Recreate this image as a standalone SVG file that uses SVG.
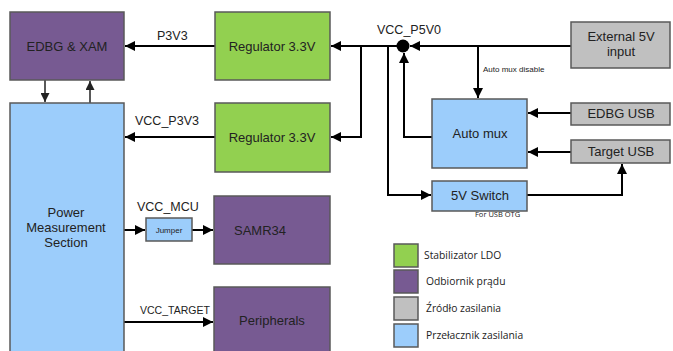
<svg xmlns="http://www.w3.org/2000/svg" width="673" height="351" viewBox="0 0 673 351">
  <style>
    .box { stroke: #595959; stroke-width: 1.5; }
    .ldo { fill: #92d050; }
    .load { fill: #775a92; }
    .src { fill: #c0c0c0; }
    .sw { fill: #9ccdfb; }
    .wire { fill: none; stroke: #000; stroke-width: 2; }
    .thin { fill: none; stroke: #222; stroke-width: 1.5; }
    text { font-family: "Liberation Sans", Arial, sans-serif; fill: #222; }
    .lbl { font-size: 13px; text-anchor: middle; }
    .sig { font-size: 12.5px; }
    .sig-sm { font-size: 10.5px; }
    .tiny { font-size: 8px; }
    .note { font-family: "Open Sans", "Liberation Sans", sans-serif; font-size: 7.5px; }
    .leg { font-family: "Open Sans", "Liberation Sans", sans-serif; font-size: 10.3px; }
  </style>
  <defs>
    <marker id="arr" viewBox="0 0 10 10" refX="10" refY="5" markerWidth="5" markerHeight="5" orient="auto" markerUnits="strokeWidth">
      <path d="M0,0 L10,5 L0,10 z" fill="#000"/>
    </marker>
    <marker id="arrs" viewBox="0 0 10 10" refX="10" refY="5" markerWidth="6" markerHeight="6" orient="auto" markerUnits="strokeWidth">
      <path d="M0,0 L10,5 L0,10 z" fill="#222"/>
    </marker>
  </defs>
  <rect width="673" height="351" fill="#fff"/>

  <!-- connectors -->
  <g id="connectors">
    <path class="wire" d="M215,46 H125" marker-end="url(#arr)"/>
    <path class="wire" d="M215,137 H125" marker-end="url(#arr)"/>
    <path class="thin" d="M45,80 V102" marker-end="url(#arrs)"/>
    <path class="thin" d="M90,103 V81" marker-end="url(#arrs)"/>
    <!-- 5V rail to regulators -->
    <path class="wire" d="M398,46 H331" marker-end="url(#arr)"/>
    <path class="wire" d="M361,46 V137 H331" marker-end="url(#arr)"/>
    <path class="wire" d="M388,46 V195 H431" marker-end="url(#arr)"/>
    <!-- external input into junction -->
    <path class="wire" d="M571,46 H410" marker-end="url(#arr)"/>
    <path class="wire" d="M478,46 V98" marker-end="url(#arr)"/>
    <!-- auto mux output back to junction -->
    <path class="wire" d="M432,137 H404 V53" marker-end="url(#arr)"/>
    <path class="wire" d="M571,113 H528" marker-end="url(#arr)"/>
    <path class="wire" d="M571,152 H528" marker-end="url(#arr)"/>
    <path class="wire" d="M527,195 H622 V164" marker-end="url(#arr)"/>
    <!-- outputs of power measurement -->
    <path class="wire" d="M124,230 H145" marker-end="url(#arr)"/>
    <path class="wire" d="M192,230 H213" marker-end="url(#arr)"/>
    <path class="wire" d="M124,322 H213" marker-end="url(#arr)"/>
    <circle cx="403" cy="46" r="6.5" fill="#000"/>
    <text class="sig" x="157" y="40">P3V3</text>
    <text class="sig" x="135" y="125">VCC_P3V3</text>
    <text class="sig" x="377" y="34">VCC_P5V0</text>
    <text class="tiny" x="483" y="72">Auto mux disable</text>
    <text class="note" x="475" y="217">For USB OTG</text>
    <text class="sig" x="137" y="211">VCC_MCU</text>
    <text class="sig-sm" x="140" y="314">VCC_TARGET</text>
  </g>

  <g id="edbg-xam">
    <rect class="box load" x="10" y="12" width="114" height="68"/>
    <text class="lbl" x="67" y="51">EDBG &amp; XAM</text>
  </g>
  <g id="regulator-1">
    <rect class="box ldo" x="215" y="12" width="115" height="68"/>
    <text class="lbl" x="272" y="51">Regulator 3.3V</text>
  </g>
  <g id="regulator-2">
    <rect class="box ldo" x="215" y="103" width="115" height="69"/>
    <text class="lbl" x="272" y="142">Regulator 3.3V</text>
  </g>
  <g id="power-measurement">
    <rect class="box sw" x="10" y="103" width="114" height="252"/>
    <text class="lbl" x="66" y="217">Power</text>
    <text class="lbl" x="66" y="232">Measurement</text>
    <text class="lbl" x="66" y="247">Section</text>
  </g>
  <g id="external-5v">
    <rect class="box src" x="571" y="22" width="99" height="46"/>
    <text class="lbl" x="621" y="41">External 5V</text>
    <text class="lbl" x="621" y="56">input</text>
  </g>
  <g id="auto-mux">
    <rect class="box sw" x="432" y="99" width="95" height="69"/>
    <text class="lbl" x="480" y="138">Auto mux</text>
  </g>
  <g id="edbg-usb">
    <rect class="box src" x="571" y="103" width="99" height="22"/>
    <text class="lbl" x="621" y="118">EDBG USB</text>
  </g>
  <g id="target-usb">
    <rect class="box src" x="571" y="140" width="99" height="23"/>
    <text class="lbl" x="621" y="156">Target USB</text>
  </g>
  <g id="switch-5v">
    <rect class="box sw" x="432" y="181" width="95" height="30"/>
    <text class="lbl" x="480" y="200">5V Switch</text>
  </g>
  <g id="jumper">
    <rect class="box sw" x="146" y="218" width="46" height="23" stroke-width="1"/>
    <text x="169" y="233" font-size="8" text-anchor="middle">Jumper</text>
  </g>
  <g id="samr34">
    <rect class="box load" x="214" y="196" width="116" height="68"/>
    <text x="234" y="235" font-size="13">SAMR34</text>
  </g>
  <g id="peripherals">
    <rect class="box load" x="214" y="287" width="116" height="70"/>
    <text class="lbl" x="272" y="325">Peripherals</text>
  </g>

  <g id="legend">
    <rect class="box ldo" x="394" y="244" width="24" height="23"/>
    <text class="leg" x="424" y="259">Stabilizator LDO</text>
    <rect class="box load" x="394" y="270" width="24" height="23"/>
    <text class="leg" x="426" y="285">Odbiornik prądu</text>
    <rect class="box src" x="394" y="297" width="24" height="23"/>
    <text class="leg" x="426" y="312">Źródło zasilania</text>
    <rect class="box sw" x="394" y="324" width="24" height="23"/>
    <text class="leg" x="426" y="339">Przełacznik zasilania</text>
  </g>
</svg>
